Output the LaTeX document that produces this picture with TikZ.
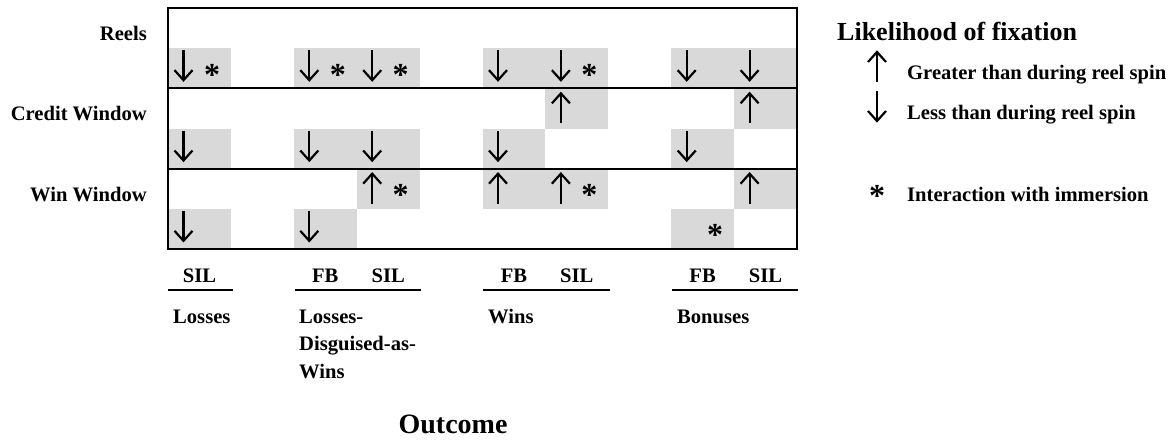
\documentclass[tikz,border=0pt]{standalone}
\usepackage{fontspec}
\setmainfont{Liberation Serif}
\definecolor{cellgray}{HTML}{D9D9D9}
\tikzset{
  frame/.style={line width=2.4pt},
  sep/.style={line width=2pt},
  uline/.style={line width=2.4pt},
  arr/.style={line width=2.2pt, line join=miter},
  lbl/.style={font=\fontsize{20.6}{27.5}\selectfont\bfseries, inner sep=0pt},
  ttl/.style={font=\fontsize{26}{30}\selectfont\bfseries, inner sep=0pt},
  big/.style={font=\fontsize{28}{32}\selectfont\bfseries, inner sep=0pt},
  starmark/.style={font=\fontsize{32}{36}\selectfont\bfseries, inner sep=0pt, anchor=base},
  dnarr/.pic={\draw[arr] (0,0) -- (0,30); \draw[arr] (-9,20) -- (0,30) -- (9,20);},
  uparr/.pic={\draw[arr] (0,30) -- (0,0); \draw[arr] (-9,10) -- (0,0) -- (9,10);},
}
\newcommand\cw{62.9}
\newcommand\rh{40.17}
\newcommand\gcell[2]{\fill[cellgray] ({168+#1*\cw},{8+#2*\rh}) rectangle ({168+(#1+1)*\cw},{8+(#2+1)*\rh});}
\newcommand\dn[2]{\pic at ({168+#1*\cw+15.5},{8+#2*\rh+2}) {dnarr};}
\newcommand\up[2]{\pic at ({168+#1*\cw+15.5},{8+#2*\rh+5}) {uparr};}
\newcommand\st[3]{\node[starmark] (#3) at ({168+#1*\cw+44},{8+#2*\rh+37}) {*};}
\begin{document}
\begin{tikzpicture}[x=1pt,y=-1pt]
\useasboundingbox (0,0) rectangle (1176,441);
% shaded cells
\foreach \c in {0,2,3,5,6,8,9} {\gcell{\c}{1}}
\foreach \c in {6,9} {\gcell{\c}{2}}
\foreach \c in {0,2,3,5,8} {\gcell{\c}{3}}
\foreach \c in {3,5,6,9} {\gcell{\c}{4}}
\foreach \c in {0,2,8} {\gcell{\c}{5}}
% frame
\draw[frame] (168,8) rectangle (797,249);
\coordinate (s1l) at (168,88.3); \coordinate (s1r) at (797,88.3);
\coordinate (s2l) at (168,168.7); \coordinate (s2r) at (797,168.7);
\draw[sep] (s1l) -- (s1r);
\draw[sep] (s2l) -- (s2r);
% arrows
\foreach \c in {0,2,3,5,6,8,9} {\dn{\c}{1}}
\foreach \c in {6,9} {\up{\c}{2}}
\foreach \c in {0,2,3,5,8} {\dn{\c}{3}}
\foreach \c in {3,5,6,9} {\up{\c}{4}}
\foreach \c in {0,2} {\dn{\c}{5}}
% stars
\st{0}{1}{sa}\st{2}{1}{sb}\st{3}{1}{sc}\st{6}{1}{sd}
\st{3}{4}{se}\st{6}{4}{sf}\st{8}{5}{sg}
% row labels
\node[lbl, anchor=base east] (reels) at (147,40.7) {Reels};
\node[lbl, anchor=base east] (credit) at (147,120.7) {Credit Window};
\node[lbl, anchor=base east] (winw) at (147,201.7) {Win Window};
% column headers
\node[lbl, anchor=base] (h0) at ({168+0.5*\cw},282) {SIL};
\node[lbl, anchor=base] (h2) at ({168+2.5*\cw},282) {FB};
\node[lbl, anchor=base] (h3) at ({168+3.5*\cw},282) {SIL};
\node[lbl, anchor=base] (h5) at ({168+5.5*\cw},282) {FB};
\node[lbl, anchor=base] (h6) at ({168+6.5*\cw},282) {SIL};
\node[lbl, anchor=base] (h8) at ({168+8.5*\cw},282) {FB};
\node[lbl, anchor=base] (h9) at ({168+9.5*\cw},282) {SIL};
\coordinate (u1a) at (168,290); \coordinate (u1b) at (233,290);
\coordinate (u2a) at (295,290); \coordinate (u2b) at (421,290);
\coordinate (u3a) at (483,290); \coordinate (u3b) at (610,290);
\coordinate (u4a) at (672,290); \coordinate (u4b) at (798,290);
\draw[uline] (u1a) -- (u1b);
\draw[uline] (u2a) -- (u2b);
\draw[uline] (u3a) -- (u3b);
\draw[uline] (u4a) -- (u4b);
% categories
\node[lbl, anchor=north west, align=left] (losses) at (173,303.75) {\strut Losses};
\node[lbl, anchor=north west, align=left] (ldw) at (299,303.75) {\strut Losses-\\Disguised-as-\\Wins};
\node[lbl, anchor=north west, align=left] (wins) at (488,303.75) {\strut Wins};
\node[lbl, anchor=north west, align=left] (bonus) at (677,303.75) {\strut Bonuses};
\node[big, anchor=base] (outcome) at (453,433) {Outcome};
% legend
\node[ttl, anchor=base west] (legtitle) at (837,41) {Likelihood of fixation};
\pic at (877,52) {uparr};
\pic at (877,91) {dnarr};
\node[lbl, anchor=base west] (greater) at (907,80) {Greater than during reel spin};
\node[lbl, anchor=base west] (less) at (907,120) {Less than during reel spin};
\node[starmark] (legstar) at (877,207) {*};
\node[lbl, anchor=base west] (inter) at (907,201.7) {Interaction with immersion};
\end{tikzpicture}
\end{document}
